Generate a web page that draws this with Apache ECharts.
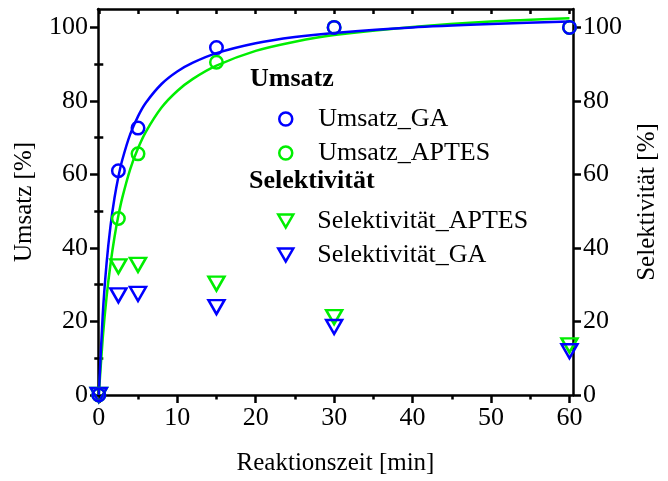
<!DOCTYPE html>
<html>
<head>
<meta charset="utf-8">
<script src="https://cdn.jsdelivr.net/npm/echarts@6/dist/echarts.min.js"></script>
<style>html,body{margin:0;padding:0;background:#fff}#c{width:668px;height:481px}</style>
</head>
<body>
<div id="c"></div>
<script>
// ---- data ----
const sampleTimes = [0, 2.5, 5, 15, 30, 60];
const umsatzGA = [0, 61, 72.6, 94.5, 100, 100];
const umsatzAPTES = [0, 48, 65.6, 90.5, 100, 100];
const selAPTES = [0, 35, 35.4, 30.3, 21.2, 13.5];
const selGA = [0, 27.1, 27.5, 23.9, 18.5, 11.9];

// fitted curves
const fitTimes = [0, 0.5, 1, 1.5, 2, 2.5, 3, 4, 5, 6, 8, 10, 12, 15, 20, 25, 30, 40, 50, 60];
const fitGA = [0, 21.7, 36.0, 46.1, 53.6, 59.4, 64.0, 70.9, 75.8, 79.5, 84.6, 88.0, 90.4, 93.0, 95.7, 97.4, 98.5, 100.0, 100.9, 101.6];
const fitAPTES = [0, 15.3, 26.8, 35.7, 42.9, 48.8, 53.7, 61.4, 67.1, 71.6, 78.2, 82.7, 86.0, 89.6, 93.6, 96.1, 97.9, 100.1, 101.6, 102.5];

const xMajorTicks = [0, 10, 20, 30, 40, 50, 60];
const xMinorTicks = [5, 15, 25, 35, 45, 55];
const xTopTicks = [0, 5, 10, 15, 20, 25, 30, 35, 40, 45, 50, 55, 60];
const yMajorTicks = [0, 20, 40, 60, 80, 100];
const yMinorTicks = [10, 30, 50, 70, 90];

const BLUE = '#0000ff';
const GREEN = '#00ee00';
const FONT = 'Liberation Serif';
const TRI = 'path://M0,0L20,0L10,17.32Z';

const zip = (xs, ys) => xs.map((x, i) => [x, ys[i]]);

const chart = echarts.init(document.getElementById('c'), null, {renderer: 'canvas'});

const lineStyle = {color: '#000', width: 2.5};
const labelStyle = {fontFamily: FONT, fontSize: 26, color: '#000'};

function yAxisMain(pos, name, gap) {
  return {
    type: 'value', position: pos, min: 0, max: 105,
    name: name, nameLocation: 'middle', nameGap: gap, nameRotate: 90,
    nameTextStyle: {fontFamily: FONT, fontSize: 25, color: '#000'},
    axisLine: {show: true, onZero: false, lineStyle: lineStyle},
    axisTick: {show: true, inside: false, length: 8, lineStyle: {width: 2.5, color: '#000'}, customValues: yMajorTicks},
    axisLabel: Object.assign({show: true, margin: 10, customValues: yMajorTicks}, labelStyle),
    splitLine: {show: false}
  };
}
function yAxisMinor(pos) {
  return {
    type: 'value', position: pos, min: 0, max: 105,
    axisLine: {show: false},
    axisTick: {show: true, inside: false, length: 4.5, lineStyle: {width: 2.5, color: '#000'}, customValues: yMinorTicks},
    axisLabel: {show: false},
    splitLine: {show: false}
  };
}
function hollow(color) {
  return {color: 'rgba(0,0,0,0)', borderColor: color, borderWidth: 2.5, opacity: 1};
}

const option = {
  animation: false,
  backgroundColor: '#fff',
  grid: {left: 98, right: 88, top: 9, bottom: 86, containLabel: false},
  xAxis: [
    {
      type: 'value', position: 'bottom', min: -0.1, max: 60.45,
      name: 'Reaktionszeit [min]', nameLocation: 'middle', nameGap: 56,
      nameTextStyle: {fontFamily: FONT, fontSize: 25, color: '#000'},
      axisLine: {show: true, onZero: false, lineStyle: lineStyle},
      axisTick: {show: true, inside: false, length: 8, lineStyle: {width: 2.5, color: '#000'}, customValues: xMajorTicks},
      axisLabel: Object.assign({show: true, margin: 10, customValues: xMajorTicks}, labelStyle),
      splitLine: {show: false}
    },
    {
      type: 'value', position: 'bottom', min: -0.1, max: 60.45,
      axisLine: {show: false, onZero: false},
      axisTick: {show: true, inside: false, length: 4.5, lineStyle: {width: 2.5, color: '#000'}, customValues: xMinorTicks},
      axisLabel: {show: false},
      splitLine: {show: false}
    },
    {
      type: 'value', position: 'top', min: -0.1, max: 60.45,
      axisLine: {show: true, onZero: false, lineStyle: lineStyle},
      axisTick: {show: true, inside: true, length: 5, lineStyle: {width: 2.5, color: '#000'}, customValues: xTopTicks},
      axisLabel: {show: false},
      splitLine: {show: false}
    }
  ],
  yAxis: [
    yAxisMain('left', 'Umsatz [%]', 61),
    yAxisMain('right', 'Selektivität [%]', 62),
    yAxisMinor('left'),
    yAxisMinor('right')
  ],
  graphic: [
    {type: 'text', left: 250, top: 66, style: {text: 'Umsatz', fontFamily: FONT, fontSize: 26, fontWeight: 'bold', fill: '#000'}},
    {type: 'text', left: 249, top: 168, style: {text: 'Selektivität', fontFamily: FONT, fontSize: 26, fontWeight: 'bold', fill: '#000'}}
  ],
  legend: [
    {
      orient: 'vertical', left: 273, top: 101, itemWidth: 13, itemHeight: 13, itemGap: 8,
      textStyle: {fontFamily: FONT, fontSize: 26, color: '#000', lineHeight: 26, padding: [0, 0, 0, 21]},
      data: [
        {name: 'Umsatz_GA', icon: 'circle', itemStyle: hollow(BLUE)},
        {name: 'Umsatz_APTES', icon: 'circle', itemStyle: hollow(GREEN)}
      ]
    },
    {
      orient: 'vertical', left: 272, top: 203, itemWidth: 15, itemHeight: 13, itemGap: 8,
      textStyle: {fontFamily: FONT, fontSize: 26, color: '#000', lineHeight: 26, padding: [0, 0, 0, 19]},
      data: [
        {name: 'Selektivität_APTES', icon: TRI, itemStyle: hollow(GREEN)},
        {name: 'Selektivität_GA', icon: TRI, itemStyle: hollow(BLUE)}
      ]
    }
  ],
  series: [
    {
      name: 'fit_APTES', type: 'line', xAxisIndex: 0, yAxisIndex: 0, data: zip(fitTimes, fitAPTES),
      showSymbol: false, symbol: 'none', smooth: 0.25, lineStyle: {color: GREEN, width: 2.5}, z: 2
    },
    {
      name: 'fit_GA', type: 'line', xAxisIndex: 0, yAxisIndex: 0, data: zip(fitTimes, fitGA),
      showSymbol: false, symbol: 'none', smooth: 0.25, lineStyle: {color: BLUE, width: 2.5}, z: 2
    },
    {
      name: 'Selektivität_APTES', type: 'scatter', xAxisIndex: 0, yAxisIndex: 1, data: zip(sampleTimes, selAPTES),
      symbol: TRI, symbolSize: [16, 14], itemStyle: hollow(GREEN), z: 3
    },
    {
      name: 'Selektivität_GA', type: 'scatter', xAxisIndex: 0, yAxisIndex: 1, data: zip(sampleTimes, selGA),
      symbol: TRI, symbolSize: [16, 14], itemStyle: hollow(BLUE), z: 3
    },
    {
      name: 'Umsatz_APTES', type: 'scatter', xAxisIndex: 0, yAxisIndex: 0, data: zip(sampleTimes, umsatzAPTES),
      symbol: 'circle', symbolSize: 12.5, itemStyle: hollow(GREEN), z: 3
    },
    {
      name: 'Umsatz_GA', type: 'scatter', xAxisIndex: 0, yAxisIndex: 0, data: zip(sampleTimes, umsatzGA),
      symbol: 'circle', symbolSize: 12.5, itemStyle: hollow(BLUE), z: 3
    }
  ]
};
chart.setOption(option);
</script>
</body>
</html>
